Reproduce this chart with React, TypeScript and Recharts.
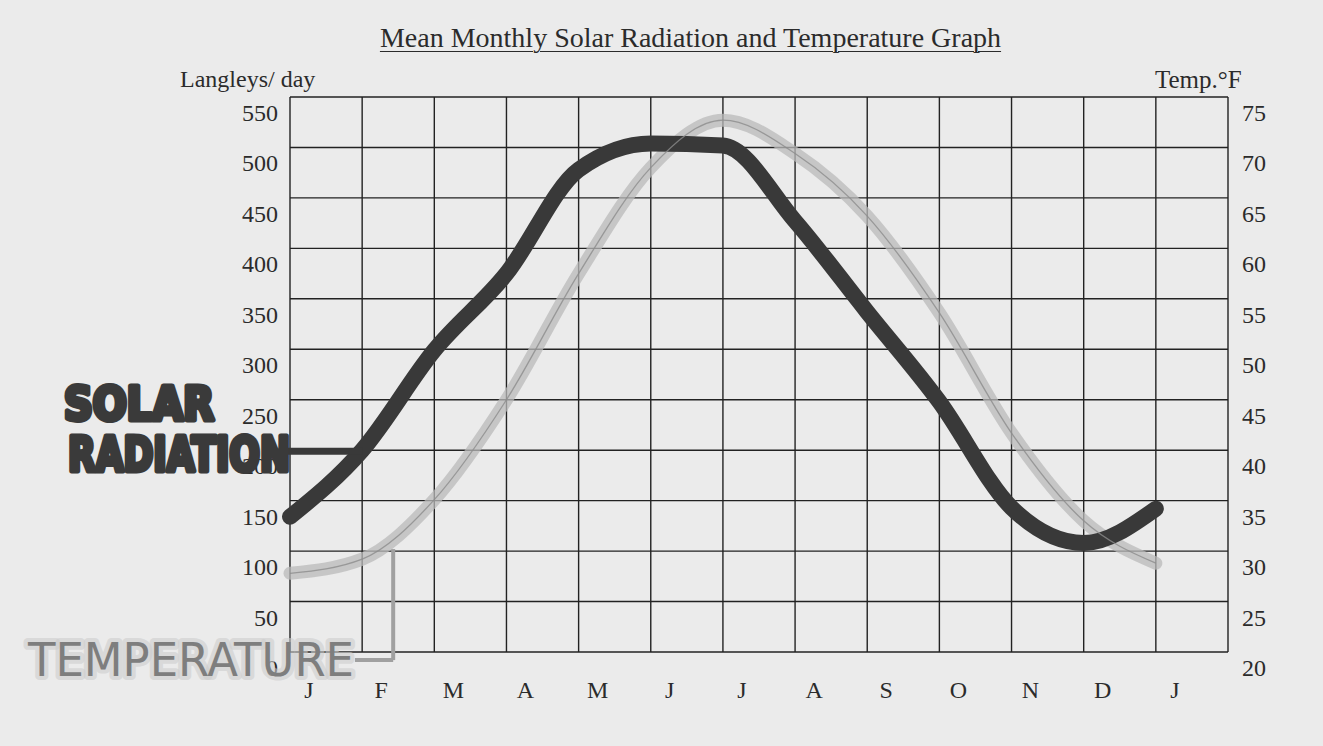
import React from "react";
import {
  LineChart, Line, XAxis, YAxis, CartesianGrid, ReferenceLine,
} from "recharts";

// month starts, J .. J
const monthPos = [0, 1, 2, 3, 4, 5, 6, 7, 8, 9, 10, 11, 12];
const monthLabels = ["J", "F", "M", "A", "M", "J", "J", "A", "S", "O", "N", "D", "J"];
const gridPos = [0, 1, 2, 3, 4, 5, 6, 7, 8, 9, 10, 11, 12, 13];

// Langleys/day
const solar = [134, 200, 299, 375, 478, 504, 502, 427, 337, 248, 143, 108, 142];
// Temp. °F
const temperature = [27.8, 29.2, 35.1, 45, 57.5, 68, 72.7, 69.4, 63.2, 53.6, 41.7, 33, 28.8];

const solarTicks = [0, 50, 100, 150, 200, 250, 300, 350, 400, 450, 500, 550];
const tempTicks = [20, 25, 30, 35, 40, 45, 50, 55, 60, 65, 70, 75];

const data = monthPos.map((m, i) => ({ m, solar: solar[i], temp: temperature[i] }));

const serif = "'Liberation Serif', 'DejaVu Serif', serif";
const ink = "#2b2b2b";
const marker = "'DejaVu Sans Condensed', 'DejaVu Sans', sans-serif";

function MonthTick(props: any) {
  const { x, y, index } = props;
  const label = monthLabels[index];
  if (!label) return null;
  return (
    <text x={x + 19} y={y + 46} textAnchor="middle" fontFamily={serif} fontSize={24} fill={ink}>
      {label}
    </text>
  );
}

function LeftTick(props: any) {
  const { x, y, payload } = props;
  return (
    <text x={x} y={y + 24} textAnchor="end" fontFamily={serif} fontSize={24} fill={ink}>
      {payload.value}
    </text>
  );
}

function RightTick(props: any) {
  const { x, y, payload } = props;
  return (
    <text x={x} y={y + 24} textAnchor="start" fontFamily={serif} fontSize={24} fill={ink}>
      {payload.value}
    </text>
  );
}

export default function App() {
  return (
    <div style={{ position: "relative", width: 1323, height: 746, background: "#ebebeb" }}>
      <style>{"body{margin:0;background:#ebebeb}"}</style>
      <div
        style={{
          position: "absolute", left: 0, width: 1381, top: 22, textAlign: "center",
          fontFamily: serif, fontSize: 28, color: ink, textDecoration: "underline",
          textUnderlineOffset: 4, textDecorationThickness: 1,
        }}
      >
        Mean Monthly Solar Radiation and Temperature Graph
      </div>
      <div style={{ position: "absolute", left: 180, top: 66, fontFamily: serif, fontSize: 24, color: ink }}>
        Langleys/ day
      </div>
      <div style={{ position: "absolute", left: 1155, top: 66, fontFamily: serif, fontSize: 25, color: ink }}>
        Temp.°F
      </div>
      <LineChart width={1323} height={746} data={data} margin={{ top: 97, right: 0, bottom: 0, left: 0 }}>
        <CartesianGrid yAxisId="solar" stroke="#222" strokeWidth={1.4} />
        <XAxis
          dataKey="m"
          type="number"
          domain={[0, 13]}
          ticks={gridPos}
          interval={0}
          height={94}
          tickSize={0}
          tickMargin={0}
          axisLine={false}
          tick={<MonthTick />}
        />
        <YAxis
          yAxisId="solar"
          domain={[0, 550]}
          ticks={solarTicks}
          interval={0}
          width={290}
          tickSize={0}
          tickMargin={12}
          axisLine={false}
          tick={<LeftTick />}
        />
        <YAxis
          yAxisId="temp"
          orientation="right"
          domain={[20, 75]}
          ticks={tempTicks}
          interval={0}
          width={95}
          tickSize={0}
          tickMargin={14}
          axisLine={false}
          tick={<RightTick />}
        />
        <Line
          yAxisId="temp"
          type="monotone"
          dataKey="temp"
          stroke="#b9b9b9"
          strokeOpacity={0.75}
          strokeWidth={13}
          strokeLinecap="round"
          dot={false}
          activeDot={false}
          isAnimationActive={false}
        />
        <Line
          yAxisId="solar"
          type="monotone"
          dataKey="solar"
          stroke="#393939"
          strokeWidth={16}
          strokeLinecap="round"
          dot={false}
          activeDot={false}
          isAnimationActive={false}
        />
        <Line
          yAxisId="temp"
          type="monotone"
          dataKey="temp"
          stroke="#8c8c8c"
          strokeOpacity={0.8}
          strokeWidth={1.3}
          dot={false}
          activeDot={false}
          isAnimationActive={false}
        />
        <ReferenceLine
          yAxisId="solar"
          segment={[{ x: -0.05, y: 199 }, { x: 1.0, y: 199 }]}
          stroke="#393939"
          strokeWidth={7}
          ifOverflow="visible"
        />
        <ReferenceLine
          yAxisId="solar"
          segment={[{ x: 0.9, y: -8 }, { x: 1.43, y: -8 }]}
          stroke="#a0a0a0"
          strokeWidth={4}
          ifOverflow="visible"
        />
        <ReferenceLine
          yAxisId="solar"
          segment={[{ x: 1.43, y: -8 }, { x: 1.43, y: 102 }]}
          stroke="#a0a0a0"
          strokeWidth={4}
          ifOverflow="visible"
        />
      </LineChart>
      <svg
        width={1323}
        height={746}
        style={{ position: "absolute", left: 0, top: 0, pointerEvents: "none" }}
      >
        <text
          x={64} y={420}
          fontFamily={marker}
          fontWeight="bold" fontSize={46} fill="#3a3a3a"
          stroke="#3a3a3a" strokeWidth={5} strokeLinejoin="round"
          textLength={150} lengthAdjust="spacingAndGlyphs"
        >
          SOLAR
        </text>
        <text
          x={68} y={471}
          fontFamily={marker}
          fontWeight="bold" fontSize={48} fill="#3a3a3a"
          stroke="#3a3a3a" strokeWidth={5} strokeLinejoin="round"
          textLength={222} lengthAdjust="spacingAndGlyphs"
        >
          RADIATION
        </text>
        <text
          x={28} y={676}
          fontFamily={marker}
          fontWeight={300} fontSize={46} fill="#7e7e7e"
          stroke="#cdcdcd" strokeOpacity={0.6} strokeWidth={8} strokeLinejoin="round"
          paintOrder="stroke"
          textLength={326} lengthAdjust="spacingAndGlyphs"
        >
          TEMPERATURE
        </text>
      </svg>
    </div>
  );
}
